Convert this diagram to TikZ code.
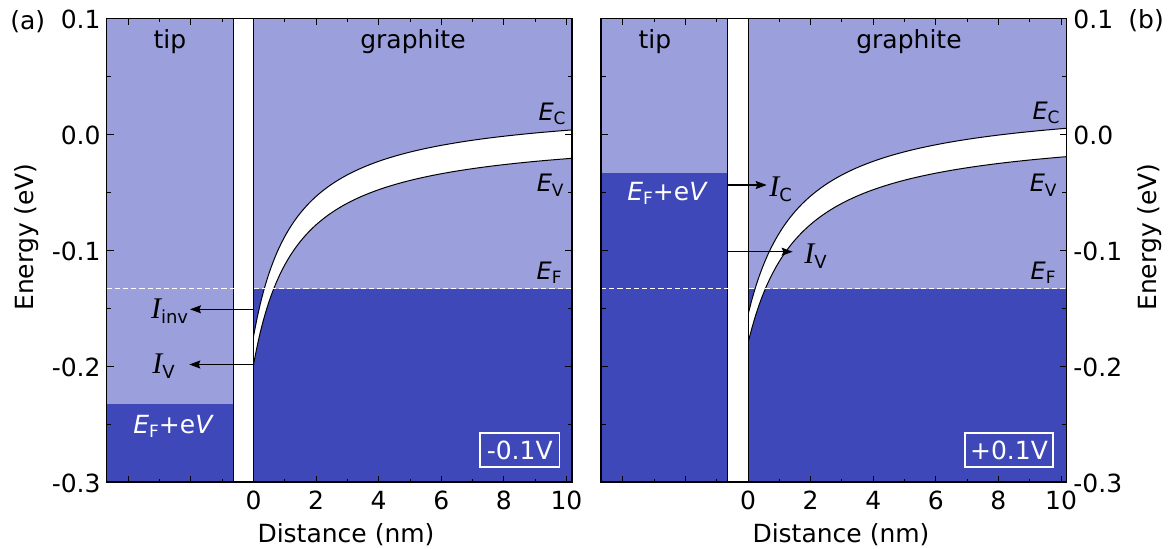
\documentclass[tikz,border=0pt]{standalone}
\usepackage{fontspec}
\usepackage{graphicx}
\setmainfont{DejaVu Sans}
\newfontfamily\iserif{Liberation Serif}
\usetikzlibrary{arrows.meta}
\definecolor{darkb}{RGB}{62,72,185}
\definecolor{lightb}{RGB}{155,160,221}
\newcommand\myE[1]{{\itshape E}\raisebox{-0.18em}{\fontsize{8.5}{10}\selectfont #1}}
\newcommand\myI[1]{{\iserif\itshape\fontsize{15}{17}\selectfont I}\raisebox{-0.2em}{\fontsize{9}{10}\selectfont #1}}
\newcommand\axticks{%
  \foreach \n in {-4,-2,...,10} {\draw[tick] ({253.5+31.3*\n},18.5) -- ++(0,6) ({253.5+31.3*\n},482) -- ++(0,-6);}
  \foreach \n in {-3,-1,...,9} {\draw[tick] ({253.5+31.3*\n},18.5) -- ++(0,3.5) ({253.5+31.3*\n},482) -- ++(0,-3.5);}
  \foreach \yy in {18.5,134.4,250.3,366.1,482} {\draw[tick] (106.5,\yy) -- ++(7,0) (572,\yy) -- ++(-7,0);}
  \foreach \yy in {76.4,192.3,308.2,424.1} {\draw[tick] (106.5,\yy) -- ++(4.5,0) (572,\yy) -- ++(-4.5,0);}
  \draw[frame] (106.5,18.5) rectangle (572,482);
}
\begin{document}
\begin{tikzpicture}[x=0.5pt,y=-0.5pt,
  txt/.style={font=\fontsize{12.5}{15}\selectfont, inner sep=0pt},
  elab/.style={font=\fontsize{12}{14}\selectfont, inner sep=0pt, anchor=base east},
  tick/.style={line width=0.5pt},
  frame/.style={line width=0.8pt},
  bar/.style={line width=0.45pt},
  band/.style={line width=0.5pt},
  efline/.style={white, line width=0.65pt, dash pattern=on 2.6pt off 1.5pt},
  curr/.style={line width=0.6pt, -{Stealth[length=5.5pt,width=4pt,inset=0.8pt]}},
  vbox/.style={draw=white, line width=0.7pt, text=white, font=\fontsize{12.5}{15}\selectfont, inner sep=0pt, minimum height=17pt}
]
\useasboundingbox (0,0) rectangle (1169,548);

% ---------------- left panel (a) ----------------
\fill[lightb] (106.5,18.5) rectangle (233.3,404.4);
\fill[darkb] (106.5,404.4) rectangle (233.3,482);
\fill[lightb] (253.5,18.5) rectangle (572,288.5);
\fill[darkb] (253.5,288.5) rectangle (572,482);
\begin{scope}
  \clip (253.5,18.5) rectangle (572,482);
  \fill[white] plot[variable=\t,domain=0:10.3,samples=200] ({253.5+31.3*\t},{102.77+312.4/(\t+1.336)})
     -- plot[variable=\t,domain=10.3:0,samples=200] ({253.5+31.3*\t},{131.16+312.4/(\t+1.336)}) -- cycle;
  \draw[band] plot[variable=\t,domain=0:10.3,samples=200] ({253.5+31.3*\t},{102.77+312.4/(\t+1.336)});
  \draw[band] plot[variable=\t,domain=0:10.3,samples=200] ({253.5+31.3*\t},{131.16+312.4/(\t+1.336)});
\end{scope}
\draw[bar] (233.3,18.5) -- (233.3,482);
\draw[bar] (253.5,18.5) -- (253.5,482);
\draw[efline] (106.5,288.5) -- (572,288.5);
\axticks

% ---------------- right panel (b) ----------------
\begin{scope}[xshift=247.25pt]
\fill[lightb] (106.5,18.5) rectangle (233.3,172.6);
\fill[darkb] (106.5,172.6) rectangle (233.3,482);
\fill[lightb] (253.5,18.5) rectangle (572,288.5);
\fill[darkb] (253.5,288.5) rectangle (572,482);
\begin{scope}
  \clip (253.5,18.5) rectangle (572,482);
  \fill[white] plot[variable=\t,domain=0:10.3,samples=200] ({253.5+31.3*\t},{98.01+357.7/(\t+1.649)})
     -- plot[variable=\t,domain=10.3:0,samples=200] ({253.5+31.3*\t},{126.40+357.7/(\t+1.649)}) -- cycle;
  \draw[band] plot[variable=\t,domain=0:10.3,samples=200] ({253.5+31.3*\t},{98.01+357.7/(\t+1.649)});
  \draw[band] plot[variable=\t,domain=0:10.3,samples=200] ({253.5+31.3*\t},{126.40+357.7/(\t+1.649)});
\end{scope}
\draw[bar] (233.3,18.5) -- (233.3,482);
\draw[bar] (253.5,18.5) -- (253.5,482);
\draw[efline] (106.5,288.5) -- (572,288.5);
\axticks
\end{scope}

% ---------------- axis labels ----------------
\node[txt, anchor=base west] (pa) at (10,29.3) {(a)};
\node[txt, anchor=base west] (pb) at (1128,28.5) {(b)};
\foreach \yy/\lab [count=\i] in {18.5/0.1,134.4/0.0,250.3/-0.1,366.1/-0.2,482/-0.3} {
  \node[txt, anchor=base east] (ylL\i) at (101,{\yy+10}) {\lab};
  \node[txt, anchor=base west] (ylR\i) at (1073,{\yy+10}) {\lab};
}
\foreach \n in {0,2,...,10} {
  \node[txt, anchor=base] (xlL\n) at ({253.5+31.3*\n},509) {\n};
  \node[txt, anchor=base] (xlR\n) at ({748+31.3*\n},509) {\n};
}
\node[txt, anchor=base] (xtL) at (346,542) {Distance (nm)};
\node[txt, anchor=base] (xtR) at (841,542) {Distance (nm)};
\node[txt, anchor=base, rotate=90] (ytL) at (33.3,237) {Energy (eV)};
\node[txt, anchor=base, rotate=90] (ytR) at (1156.5,237) {Energy (eV)};

% ---------------- region labels ----------------
\node[txt, anchor=base] (tipL) at (170,48.3) {tip};
\node[txt, anchor=base] (grL) at (413,48.3) {graphite};
\node[txt, anchor=base] (tipR) at (655,48.3) {tip};
\node[txt, anchor=base] (grR) at (909,48.3) {graphite};

\node[elab] (ecL) at (566,120) {\myE{C}};
\node[elab] (evL) at (564,191.7) {\myE{V}};
\node[elab] (efL) at (562,279) {\myE{F}};
\node[elab] (ecR) at (1060,119.3) {\myE{C}};
\node[elab] (evR) at (1057,191.7) {\myE{V}};
\node[elab] (efR) at (1056,279) {\myE{F}};

\node[txt, anchor=base west, text=white] (bvL) at (133,433.3) {\myE{F}+e{\itshape V}};
\node[txt, anchor=base west, text=white] (bvR) at (627,200) {\myE{F}+e{\itshape V}};

\node[vbox, minimum width=39.6pt] (vL) at (519.7,450) {-0.1V};
\node[vbox, minimum width=44pt] (vR) at (1009,450) {+0.1V};

% ---------------- currents ----------------
\coordinate (a1s) at (253.5,309.3);
\coordinate (a1e) at (190,309.3);
\coordinate (a2s) at (253.5,364.5);
\coordinate (a2e) at (189.3,364.5);
\coordinate (b1s) at (727.8,185);
\coordinate (b1e) at (766.7,185);
\coordinate (b2s) at (727.8,251.7);
\coordinate (b2e) at (792.7,251.7);
\draw[curr] (a1s) -- (a1e);
\draw[curr] (a2s) -- (a2e);
\draw[curr] (b1s) -- (b1e);
\draw[curr] (b2s) -- (b2e);
\node[txt, anchor=base east] (iinv) at (188.5,318) {\myI{inv}};
\node[txt, anchor=base east] (ivL) at (175,373) {\myI{V}};
\node[txt, anchor=base west] (icR) at (769,196.5) {\myI{C}};
\node[txt, anchor=base west] (ivR) at (804,263) {\myI{V}};
\end{tikzpicture}
\end{document}
